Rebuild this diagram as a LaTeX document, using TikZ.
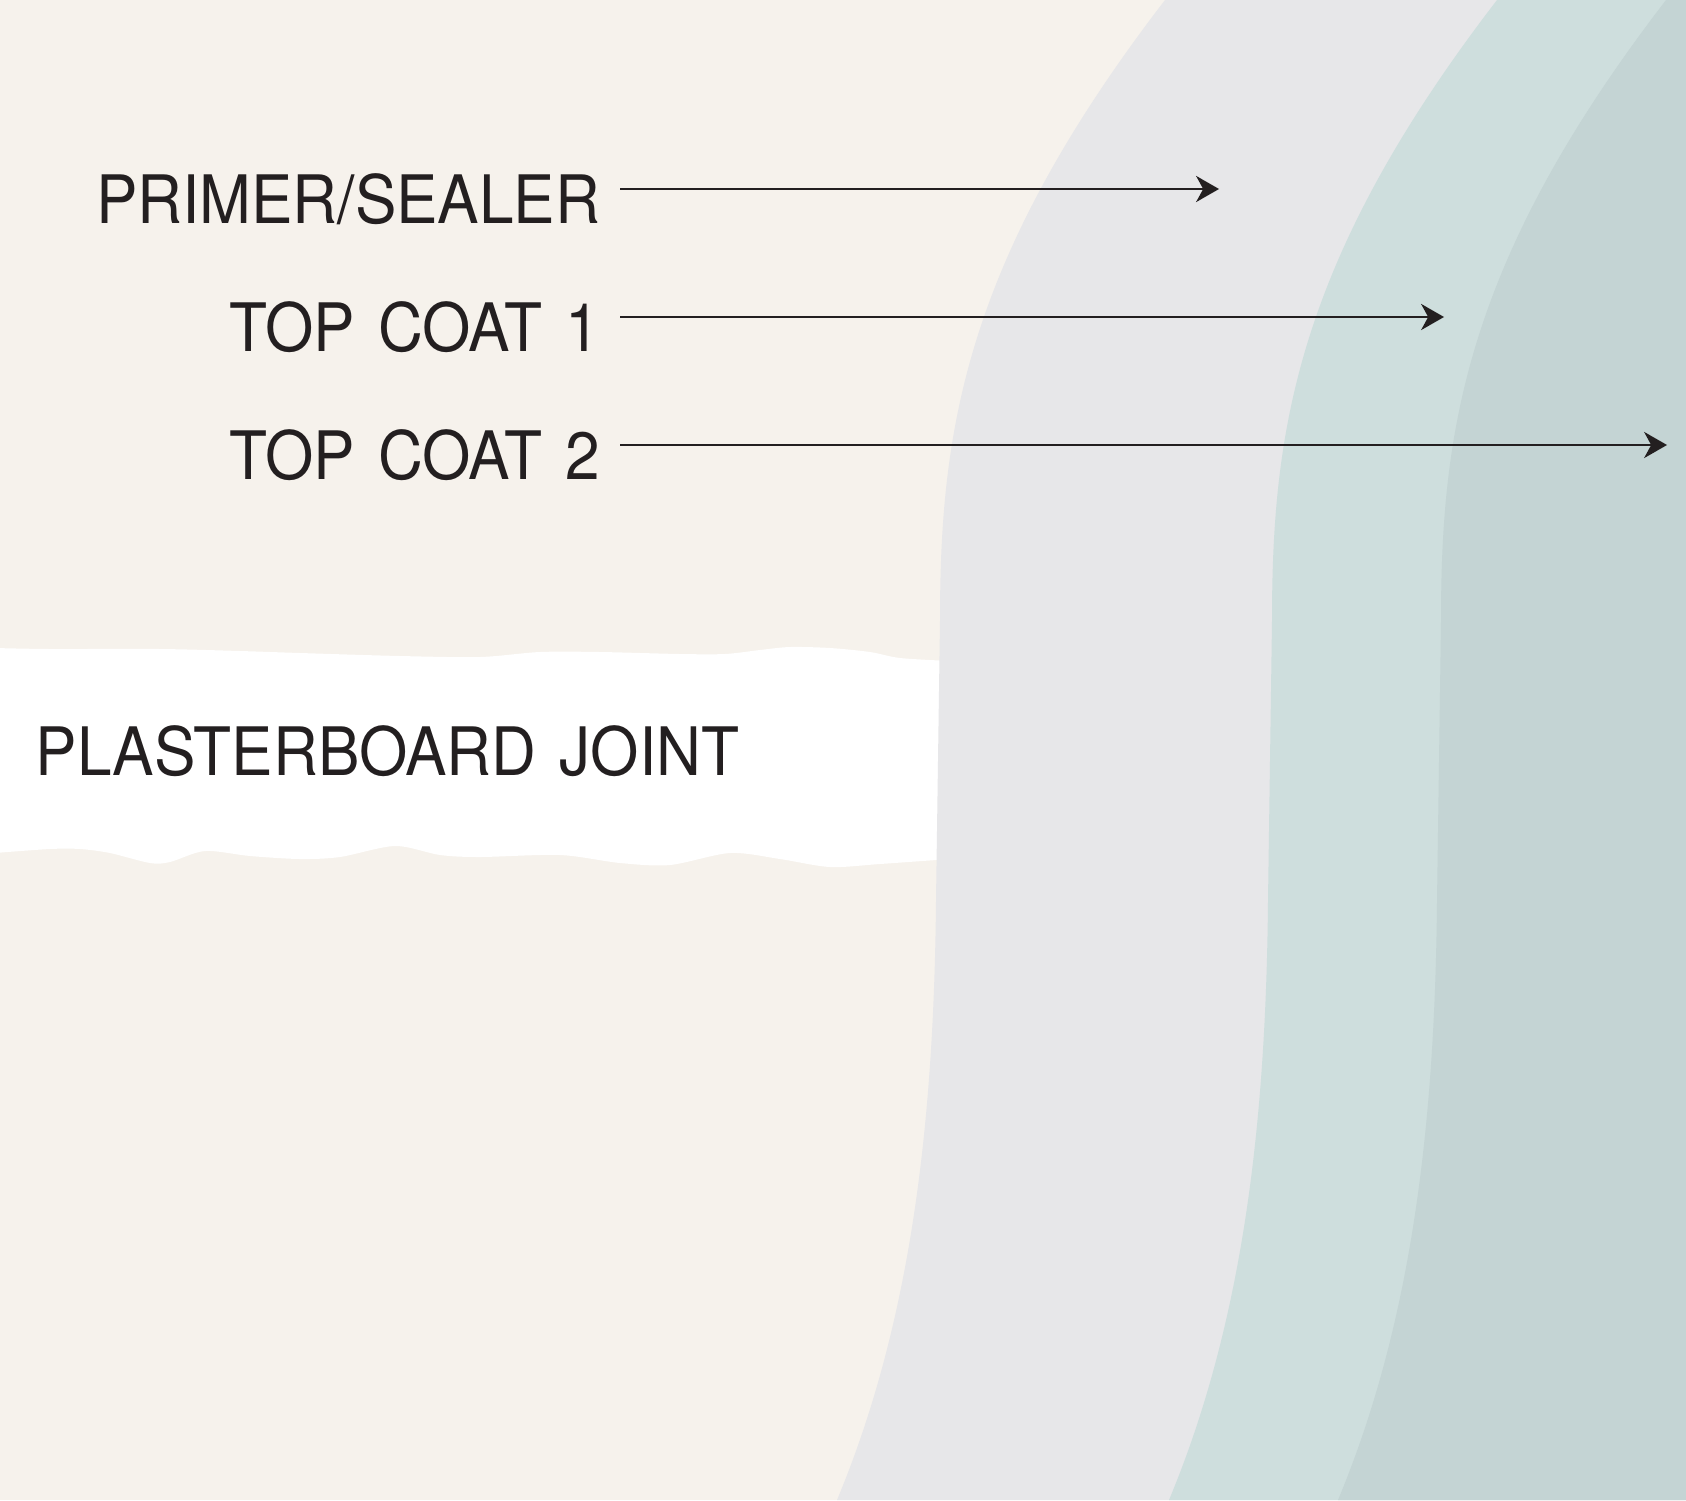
\documentclass[tikz,border=0pt]{standalone}
\usepackage{fontspec}
\usepackage{tikz}
\usetikzlibrary{arrows.meta}
\newfontfamily\labelfont{TeX Gyre Heros}[FakeStretch=0.93,WordSpace=1.35]
\definecolor{wallbeige}{HTML}{F6F2EC}
\definecolor{primergray}{HTML}{E7E7E9}
\definecolor{coatone}{HTML}{CEDEDD}
\definecolor{coattwo}{HTML}{C4D4D4}
\definecolor{ink}{HTML}{231F20}

\begin{document}
\begin{tikzpicture}[x=0.01cm,y=-0.01cm,
    coatlabel/.style={inner sep=0pt,text=ink,font=\labelfont\fontsize{19}{23}\selectfont},
    pointer/.style={ink,line width=0.8pt,-{Stealth[length=6.5pt,width=7.4pt,inset=2pt]}}]
  \useasboundingbox (0,0) rectangle (1686,1500);
  \clip (0,0) rectangle (1686,1500);

  % wall and joint
  \fill[wallbeige] (0,0) rectangle (1686,1500);
  \fill[white] plot[smooth,tension=0.5] coordinates {(-5,648) (50,649) (160,649) (240,651) (300,653)
      (400,656) (480,657) (540,652) (600,652) (680,654) (725,654) (760,650) (790,647) (830,648)
      (870,652) (900,658) (950,661)}
    -- plot[smooth,tension=0.5] coordinates {(950,859) (880,864) (830,867) (780,859) (730,853)
      (670,865) (620,863) (560,855) (480,857) (440,855) (395,846) (340,857) (300,859) (250,856)
      (205,851) (170,862) (150,863) (110,853) (80,849) (50,849) (-5,853)}
    -- cycle;

  % paint layers, same edge shifted right
  \foreach \dx/\col in {0/primergray,332/coatone,501/coattwo}
    \fill[\col,shift={(\dx,0)}] (1165,0) .. controls (965,260) and (940,430) .. (940,620)
      -- (936,900) .. controls (934,1120) and (912,1320) .. (837,1500)
      -- (2300,1500) -- (2300,0) -- cycle;

  \node[coatlabel,anchor=base east] (primer) at (601,223) {PRIMER/SEALER};
  \node[coatlabel,anchor=base east] (coat1) at (601,351) {TOP COAT 1};
  \node[coatlabel,anchor=base east] (coat2) at (601,479) {TOP COAT 2};
  \node[coatlabel,anchor=base west] (joint) at (35,775) {PLASTERBOARD JOINT};

  \coordinate (primer-tip) at (1219,189);
  \coordinate (coat1-tip) at (1444,317);
  \coordinate (coat2-tip) at (1667,445);

  \draw[pointer] ([shift={(19,-34)}]primer.base east) -- (primer-tip);
  \draw[pointer] ([shift={(19,-34)}]coat1.base east) -- (coat1-tip);
  \draw[pointer] ([shift={(19,-34)}]coat2.base east) -- (coat2-tip);
\end{tikzpicture}
\end{document}
